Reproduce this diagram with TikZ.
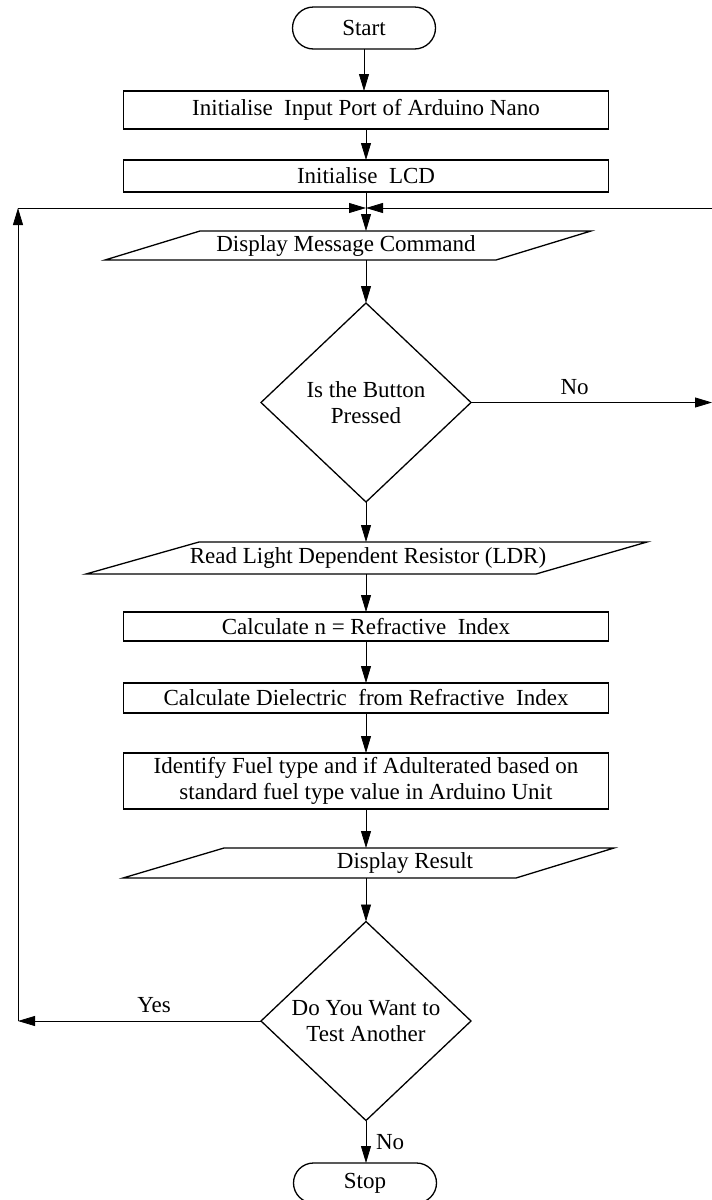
\documentclass[tikz,border=0pt]{standalone}
\usepackage{fontspec}
\setmainfont{Liberation Serif}
\usetikzlibrary{shapes.geometric,shapes.misc,arrows.meta,calc}
\begin{document}
\begin{tikzpicture}[x=1pt,y=-1pt,
  font=\fontsize{23}{26.5}\selectfont,
  every node/.style={inner sep=0pt, outer sep=0pt},
  shapeline/.style={draw, line width=1.3pt, line join=miter},
  term/.style={shapeline, rounded rectangle, minimum width=143pt, minimum height=#1},
  procbox/.style={shapeline, rectangle, minimum width=485pt, minimum height=#1, align=center},
  iotext/.style={rectangle, minimum width=300pt, minimum height=#1},
  decision/.style={shapeline, diamond, minimum width=210pt, minimum height=199pt, align=center},
  arr/.style={-{Triangle[length=17pt,width=10pt]}, line width=0.8pt},
  lbl/.style={font=\fontsize{23}{26.5}\selectfont}
]
\useasboundingbox (0,0) rectangle (712,1200);

\node[term=42pt] (start) at (364,28) {Start};
\node[procbox=38pt] (b1) at (366,110) {Initialise\ \ Input Port of Arduino Nano};
\node[procbox=32pt] (b2) at (366,176) {Initialise\ \ LCD};
\node[iotext=29pt] (p1) at (346,245.5) {Display Message Command};
\draw[shapeline] (200,231) -- (591,231) -- (496,260) -- (105,260) -- cycle;
\node[decision] (d1) at (366,402.5) {Is the Button\\Pressed};
\node[iotext=32pt] (p2) at (368,558) {Read Light Dependent Resistor (LDR)};
\draw[shapeline] (199,542) -- (647,542) -- (536,574) -- (86,574) -- cycle;
\node[procbox=29pt] (b3) at (366,626.5) {Calculate n = Refractive\ \ Index};
\node[procbox=30pt] (b4) at (366,698) {Calculate Dielectric\ \ from Refractive\ \ Index};
\node[procbox=56pt] (b5) at (366,781) {Identify Fuel type and if Adulterated based on\\standard fuel type value in Arduino Unit};
\node[iotext=30pt] (p3) at (405,863) {Display Result};
\draw[shapeline] (224,848) -- (614,848) -- (516,878) -- (123,878) -- cycle;
\node[decision] (d2) at (366,1021) {Do You Want to\\Test Another};
\node[term=40pt] (stop) at (365,1183) {Stop};

\coordinate (m) at (366,208);
\coordinate (cl) at (18,208);
\coordinate (cr) at (712,208);
\coordinate (yl) at (18,1021);
\coordinate (nr) at (712,402.5);

\draw[arr] (start) -- (start |- b1.north);
\draw[arr] (b1) -- (b2);
\draw[arr] (b2.south) -- (b2.south |- p1.north);
\draw[arr] (cl) -- (m);
\draw[arr] (cr) -- (m);
\draw[arr] (p1.south -| d1.north) -- (d1.north);
\draw[arr] (d1.east) -- (nr) node[lbl, pos=0.43, above=8pt] {No};
\draw[arr] (d1.south) -- (d1.south |- p2.north);
\draw[arr] (p2.south -| b3.north) -- (b3.north);
\draw[arr] (b3) -- (b4);
\draw[arr] (b4) -- (b5);
\draw[arr] (b5.south) -- (b5.south |- p3.north);
\draw[arr] (p3.south -| d2.north) -- (d2.north);
\draw[arr] (d2.south) -- (d2.south |- stop.north) node[lbl, midway, right=10pt] {No};
\draw[arr] (d2.west) -- (yl) node[lbl, pos=0.44, above=8pt] {Yes};
\draw[arr] (yl) -- (cl);
\end{tikzpicture}
\end{document}
